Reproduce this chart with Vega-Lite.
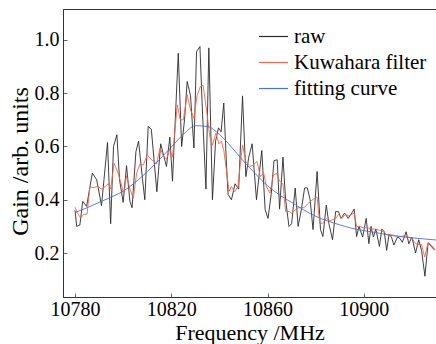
{
  "$schema": "https://vega.github.io/schema/vega-lite/v6.json",
  "width": 373,
  "height": 288,
  "autosize": "none",
  "padding": {"left": 63, "top": 9, "right": 0, "bottom": 47},
  "config": {
    "font": "Liberation Serif, DejaVu Serif, serif",
    "view": {"stroke": "#333", "strokeWidth": 1},
    "axis": {"grid": false, "domainColor": "#333", "tickColor": "#666", "labelColor": "#000", "titleColor": "#000", "titleFontWeight": "normal", "labelFont": "Liberation Serif, DejaVu Serif, serif", "titleFont": "Liberation Serif, DejaVu Serif, serif"},
    "legend": {"labelFont": "Liberation Serif, DejaVu Serif, serif"}
  },
  "data": {
    "values": [
      {"series":"raw","freq":10780,"gain":0.36},{"series":"raw","freq":10780.7,"gain":0.30},{"series":"raw","freq":10782,"gain":0.305},{"series":"raw","freq":10783.2,"gain":0.394},{"series":"raw","freq":10784.8,"gain":0.375},{"series":"raw","freq":10787.2,"gain":0.50},{"series":"raw","freq":10789,"gain":0.475},{"series":"raw","freq":10791,"gain":0.378},{"series":"raw","freq":10793.5,"gain":0.615},{"series":"raw","freq":10794.8,"gain":0.31},{"series":"raw","freq":10796,"gain":0.60},{"series":"raw","freq":10797.4,"gain":0.644},{"series":"raw","freq":10798.5,"gain":0.475},{"series":"raw","freq":10800,"gain":0.39},{"series":"raw","freq":10801.4,"gain":0.528},{"series":"raw","freq":10802.8,"gain":0.394},{"series":"raw","freq":10803.7,"gain":0.37},{"series":"raw","freq":10805.3,"gain":0.58},{"series":"raw","freq":10806.4,"gain":0.62},{"series":"raw","freq":10808,"gain":0.48},{"series":"raw","freq":10809,"gain":0.40},{"series":"raw","freq":10810.4,"gain":0.675},{"series":"raw","freq":10811.7,"gain":0.665},{"series":"raw","freq":10814,"gain":0.43},{"series":"raw","freq":10815.6,"gain":0.61},{"series":"raw","freq":10817,"gain":0.56},{"series":"raw","freq":10818,"gain":0.525},{"series":"raw","freq":10819.4,"gain":0.635},{"series":"raw","freq":10820.5,"gain":0.47},{"series":"raw","freq":10822.9,"gain":0.95},{"series":"raw","freq":10824.3,"gain":0.60},{"series":"raw","freq":10825.5,"gain":0.70},{"series":"raw","freq":10826.6,"gain":0.844},{"series":"raw","freq":10828,"gain":0.79},{"series":"raw","freq":10829.4,"gain":0.594},{"series":"raw","freq":10830.5,"gain":0.956},{"series":"raw","freq":10831.9,"gain":0.975},{"series":"raw","freq":10833,"gain":0.72},{"series":"raw","freq":10834.4,"gain":0.44},{"series":"raw","freq":10835.6,"gain":0.97},{"series":"raw","freq":10837.1,"gain":0.40},{"series":"raw","freq":10838.4,"gain":0.62},{"series":"raw","freq":10839.6,"gain":0.67},{"series":"raw","freq":10840.7,"gain":0.655},{"series":"raw","freq":10841.8,"gain":0.763},{"series":"raw","freq":10843,"gain":0.52},{"series":"raw","freq":10843.6,"gain":0.42},{"series":"raw","freq":10845,"gain":0.40},{"series":"raw","freq":10846.5,"gain":0.46},{"series":"raw","freq":10848,"gain":0.44},{"series":"raw","freq":10849.6,"gain":0.79},{"series":"raw","freq":10851,"gain":0.487},{"series":"raw","freq":10852.2,"gain":0.56},{"series":"raw","freq":10853.6,"gain":0.61},{"series":"raw","freq":10855.4,"gain":0.40},{"series":"raw","freq":10857.6,"gain":0.585},{"series":"raw","freq":10859,"gain":0.363},{"series":"raw","freq":10860.2,"gain":0.33},{"series":"raw","freq":10861.5,"gain":0.42},{"series":"raw","freq":10862.7,"gain":0.547},{"series":"raw","freq":10864,"gain":0.55},{"series":"raw","freq":10865,"gain":0.365},{"series":"raw","freq":10866.4,"gain":0.56},{"series":"raw","freq":10867.5,"gain":0.40},{"series":"raw","freq":10868.9,"gain":0.30},{"series":"raw","freq":10870,"gain":0.31},{"series":"raw","freq":10871.5,"gain":0.444},{"series":"raw","freq":10872.7,"gain":0.30},{"series":"raw","freq":10874,"gain":0.36},{"series":"raw","freq":10875.4,"gain":0.444},{"series":"raw","freq":10876.5,"gain":0.445},{"series":"raw","freq":10877.7,"gain":0.40},{"series":"raw","freq":10878.9,"gain":0.288},{"series":"raw","freq":10880.6,"gain":0.506},{"series":"raw","freq":10882,"gain":0.288},{"series":"raw","freq":10883,"gain":0.262},{"series":"raw","freq":10884.4,"gain":0.38},{"series":"raw","freq":10885.5,"gain":0.31},{"series":"raw","freq":10887,"gain":0.25},{"series":"raw","freq":10888.3,"gain":0.356},{"series":"raw","freq":10889.5,"gain":0.355},{"series":"raw","freq":10890.5,"gain":0.33},{"series":"raw","freq":10892,"gain":0.35},{"series":"raw","freq":10893.5,"gain":0.33},{"series":"raw","freq":10895,"gain":0.35},{"series":"raw","freq":10896,"gain":0.365},{"series":"raw","freq":10897,"gain":0.262},{"series":"raw","freq":10898,"gain":0.30},{"series":"raw","freq":10899.5,"gain":0.26},{"series":"raw","freq":10901,"gain":0.33},{"series":"raw","freq":10902.1,"gain":0.235},{"series":"raw","freq":10903,"gain":0.30},{"series":"raw","freq":10904,"gain":0.26},{"series":"raw","freq":10905,"gain":0.29},{"series":"raw","freq":10906.5,"gain":0.225},{"series":"raw","freq":10907.5,"gain":0.29},{"series":"raw","freq":10908.5,"gain":0.28},{"series":"raw","freq":10909.5,"gain":0.21},{"series":"raw","freq":10910.5,"gain":0.27},{"series":"raw","freq":10911.5,"gain":0.26},{"series":"raw","freq":10912.5,"gain":0.23},{"series":"raw","freq":10914,"gain":0.26},{"series":"raw","freq":10915,"gain":0.255},{"series":"raw","freq":10916,"gain":0.24},{"series":"raw","freq":10917.6,"gain":0.28},{"series":"raw","freq":10918.7,"gain":0.235},{"series":"raw","freq":10920,"gain":0.26},{"series":"raw","freq":10921.5,"gain":0.20},{"series":"raw","freq":10922.8,"gain":0.25},{"series":"raw","freq":10924,"gain":0.21},{"series":"raw","freq":10925.4,"gain":0.113},{"series":"raw","freq":10926.7,"gain":0.237},{"series":"raw","freq":10928,"gain":0.225},{"series":"raw","freq":10929.5,"gain":0.21},
      {"series":"Kuwahara filter","freq":10780,"gain":0.372},{"series":"Kuwahara filter","freq":10781,"gain":0.35},{"series":"Kuwahara filter","freq":10782.4,"gain":0.331},{"series":"Kuwahara filter","freq":10783.5,"gain":0.345},{"series":"Kuwahara filter","freq":10785,"gain":0.346},{"series":"Kuwahara filter","freq":10786.2,"gain":0.45},{"series":"Kuwahara filter","freq":10787.5,"gain":0.445},{"series":"Kuwahara filter","freq":10789.5,"gain":0.45},{"series":"Kuwahara filter","freq":10791,"gain":0.44},{"series":"Kuwahara filter","freq":10792.5,"gain":0.45},{"series":"Kuwahara filter","freq":10793.8,"gain":0.46},{"series":"Kuwahara filter","freq":10794.8,"gain":0.44},{"series":"Kuwahara filter","freq":10796.2,"gain":0.537},{"series":"Kuwahara filter","freq":10797.9,"gain":0.50},{"series":"Kuwahara filter","freq":10799.2,"gain":0.46},{"series":"Kuwahara filter","freq":10800.2,"gain":0.42},{"series":"Kuwahara filter","freq":10801.4,"gain":0.49},{"series":"Kuwahara filter","freq":10802.8,"gain":0.44},{"series":"Kuwahara filter","freq":10804.2,"gain":0.406},{"series":"Kuwahara filter","freq":10805.6,"gain":0.50},{"series":"Kuwahara filter","freq":10807,"gain":0.535},{"series":"Kuwahara filter","freq":10808.4,"gain":0.53},{"series":"Kuwahara filter","freq":10810,"gain":0.569},{"series":"Kuwahara filter","freq":10811.8,"gain":0.55},{"series":"Kuwahara filter","freq":10813.9,"gain":0.535},{"series":"Kuwahara filter","freq":10815.3,"gain":0.594},{"series":"Kuwahara filter","freq":10816.7,"gain":0.565},{"series":"Kuwahara filter","freq":10818,"gain":0.552},{"series":"Kuwahara filter","freq":10819.4,"gain":0.59},{"series":"Kuwahara filter","freq":10820.5,"gain":0.56},{"series":"Kuwahara filter","freq":10822.5,"gain":0.756},{"series":"Kuwahara filter","freq":10823.7,"gain":0.70},{"series":"Kuwahara filter","freq":10825,"gain":0.70},{"series":"Kuwahara filter","freq":10826.6,"gain":0.794},{"series":"Kuwahara filter","freq":10828,"gain":0.737},{"series":"Kuwahara filter","freq":10829.4,"gain":0.706},{"series":"Kuwahara filter","freq":10830.7,"gain":0.79},{"series":"Kuwahara filter","freq":10832.1,"gain":0.825},{"series":"Kuwahara filter","freq":10833.2,"gain":0.83},{"series":"Kuwahara filter","freq":10834.6,"gain":0.74},{"series":"Kuwahara filter","freq":10836,"gain":0.637},{"series":"Kuwahara filter","freq":10837.1,"gain":0.605},{"series":"Kuwahara filter","freq":10838.5,"gain":0.65},{"series":"Kuwahara filter","freq":10839.8,"gain":0.61},{"series":"Kuwahara filter","freq":10840.8,"gain":0.62},{"series":"Kuwahara filter","freq":10841.8,"gain":0.587},{"series":"Kuwahara filter","freq":10842.9,"gain":0.51},{"series":"Kuwahara filter","freq":10844,"gain":0.431},{"series":"Kuwahara filter","freq":10845,"gain":0.45},{"series":"Kuwahara filter","freq":10846.3,"gain":0.43},{"series":"Kuwahara filter","freq":10847.7,"gain":0.45},{"series":"Kuwahara filter","freq":10848.5,"gain":0.519},{"series":"Kuwahara filter","freq":10849.6,"gain":0.606},{"series":"Kuwahara filter","freq":10851,"gain":0.544},{"series":"Kuwahara filter","freq":10852.6,"gain":0.525},{"series":"Kuwahara filter","freq":10854,"gain":0.53},{"series":"Kuwahara filter","freq":10855.6,"gain":0.544},{"series":"Kuwahara filter","freq":10857,"gain":0.487},{"series":"Kuwahara filter","freq":10858.4,"gain":0.50},{"series":"Kuwahara filter","freq":10859.5,"gain":0.45},{"series":"Kuwahara filter","freq":10861,"gain":0.425},{"series":"Kuwahara filter","freq":10862.3,"gain":0.49},{"series":"Kuwahara filter","freq":10863.7,"gain":0.50},{"series":"Kuwahara filter","freq":10865,"gain":0.47},{"series":"Kuwahara filter","freq":10866.4,"gain":0.46},{"series":"Kuwahara filter","freq":10867.5,"gain":0.356},{"series":"Kuwahara filter","freq":10869,"gain":0.356},{"series":"Kuwahara filter","freq":10870,"gain":0.35},{"series":"Kuwahara filter","freq":10871.3,"gain":0.36},{"series":"Kuwahara filter","freq":10872.7,"gain":0.37},{"series":"Kuwahara filter","freq":10874,"gain":0.37},{"series":"Kuwahara filter","freq":10875.2,"gain":0.37},{"series":"Kuwahara filter","freq":10876.7,"gain":0.385},{"series":"Kuwahara filter","freq":10878,"gain":0.395},{"series":"Kuwahara filter","freq":10879.5,"gain":0.405},{"series":"Kuwahara filter","freq":10880.6,"gain":0.41},{"series":"Kuwahara filter","freq":10881.7,"gain":0.31},{"series":"Kuwahara filter","freq":10883,"gain":0.3125},{"series":"Kuwahara filter","freq":10884.4,"gain":0.33},{"series":"Kuwahara filter","freq":10885.5,"gain":0.32},{"series":"Kuwahara filter","freq":10887,"gain":0.325},{"series":"Kuwahara filter","freq":10888.3,"gain":0.33},{"series":"Kuwahara filter","freq":10889.5,"gain":0.345},{"series":"Kuwahara filter","freq":10891,"gain":0.33},{"series":"Kuwahara filter","freq":10892.3,"gain":0.345},{"series":"Kuwahara filter","freq":10893.7,"gain":0.34},{"series":"Kuwahara filter","freq":10895,"gain":0.345},{"series":"Kuwahara filter","freq":10896,"gain":0.35},{"series":"Kuwahara filter","freq":10897,"gain":0.30},{"series":"Kuwahara filter","freq":10898.3,"gain":0.30},{"series":"Kuwahara filter","freq":10899.7,"gain":0.295},{"series":"Kuwahara filter","freq":10901.4,"gain":0.295},{"series":"Kuwahara filter","freq":10903.5,"gain":0.29},{"series":"Kuwahara filter","freq":10905,"gain":0.29},{"series":"Kuwahara filter","freq":10906.5,"gain":0.285},{"series":"Kuwahara filter","freq":10908,"gain":0.28},{"series":"Kuwahara filter","freq":10909.5,"gain":0.27},{"series":"Kuwahara filter","freq":10911,"gain":0.27},{"series":"Kuwahara filter","freq":10913,"gain":0.265},{"series":"Kuwahara filter","freq":10915,"gain":0.262},{"series":"Kuwahara filter","freq":10917,"gain":0.265},{"series":"Kuwahara filter","freq":10918.5,"gain":0.26},{"series":"Kuwahara filter","freq":10920,"gain":0.255},{"series":"Kuwahara filter","freq":10921.5,"gain":0.235},{"series":"Kuwahara filter","freq":10923,"gain":0.232},{"series":"Kuwahara filter","freq":10924,"gain":0.232},{"series":"Kuwahara filter","freq":10925.3,"gain":0.185},{"series":"Kuwahara filter","freq":10926.7,"gain":0.24},{"series":"Kuwahara filter","freq":10928,"gain":0.23},{"series":"Kuwahara filter","freq":10929.5,"gain":0.215},
      {"series":"fitting curve","freq":10780,"gain":0.352},{"series":"fitting curve","freq":10785,"gain":0.37},{"series":"fitting curve","freq":10790,"gain":0.39},{"series":"fitting curve","freq":10795,"gain":0.41},{"series":"fitting curve","freq":10800,"gain":0.432},{"series":"fitting curve","freq":10805,"gain":0.465},{"series":"fitting curve","freq":10810,"gain":0.505},{"series":"fitting curve","freq":10815,"gain":0.55},{"series":"fitting curve","freq":10820,"gain":0.598},{"series":"fitting curve","freq":10825,"gain":0.645},{"series":"fitting curve","freq":10830,"gain":0.678},{"series":"fitting curve","freq":10835,"gain":0.675},{"series":"fitting curve","freq":10840,"gain":0.645},{"series":"fitting curve","freq":10845,"gain":0.598},{"series":"fitting curve","freq":10850,"gain":0.545},{"series":"fitting curve","freq":10855,"gain":0.497},{"series":"fitting curve","freq":10860,"gain":0.452},{"series":"fitting curve","freq":10865,"gain":0.418},{"series":"fitting curve","freq":10870,"gain":0.39},{"series":"fitting curve","freq":10875,"gain":0.362},{"series":"fitting curve","freq":10880,"gain":0.338},{"series":"fitting curve","freq":10885,"gain":0.32},{"series":"fitting curve","freq":10890,"gain":0.306},{"series":"fitting curve","freq":10895,"gain":0.293},{"series":"fitting curve","freq":10900,"gain":0.284},{"series":"fitting curve","freq":10905,"gain":0.277},{"series":"fitting curve","freq":10910,"gain":0.268},{"series":"fitting curve","freq":10915,"gain":0.262},{"series":"fitting curve","freq":10920,"gain":0.257},{"series":"fitting curve","freq":10925,"gain":0.253},{"series":"fitting curve","freq":10930,"gain":0.249}
    ]
  },
  "encoding": {
    "x": {"field": "freq", "type": "quantitative",
      "scale": {"domain": [10775, 10930], "zero": false, "nice": false},
      "axis": {"values": [10780, 10820, 10860, 10900], "format": "d", "title": "Frequency /MHz", "tickSize": -4, "labelPadding": 6, "labelFontSize": 20, "titleFontSize": 22, "titleY": 42, "titleBaseline": "alphabetic"}},
    "y": {"field": "gain", "type": "quantitative",
      "scale": {"domain": [0.035, 1.116], "zero": false, "nice": false},
      "axis": {"values": [0.2, 0.4, 0.6, 0.8, 1.0], "format": ".1f", "title": "Gain /arb. units", "tickSize": -4, "labelPadding": 8, "labelFontSize": 20, "titleFontSize": 24, "titleX": -36, "titleY": 152, "titleAlign": "center", "titleBaseline": "alphabetic", "titleAngle": -90}},
    "color": {"field": "series", "type": "nominal",
      "scale": {"domain": ["raw", "Kuwahara filter", "fitting curve"], "range": ["#2a2a2a", "#f4664a", "#4a72d0"]},
      "legend": {"orient": "none", "legendX": 195, "legendY": 12, "title": null, "symbolType": "stroke", "symbolSize": 841, "symbolStrokeWidth": 1.2, "labelFontSize": 21, "rowPadding": 0, "labelOffset": 5, "padding": 0, "labelColor": "#000"}}
  },
  "layer": [
    {"transform": [{"filter": "datum.series !== 'fitting curve'"}],
     "mark": {"type": "line", "strokeWidth": 0.9, "clip": true}},
    {"transform": [{"filter": "datum.series === 'fitting curve'"}],
     "mark": {"type": "line", "strokeWidth": 0.9, "clip": true, "interpolate": "monotone"}}
  ]
}
